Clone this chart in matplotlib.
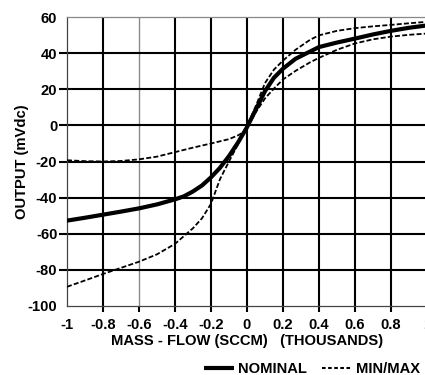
import matplotlib
matplotlib.use("Agg")
import matplotlib.pyplot as plt
from matplotlib.lines import Line2D

plt.rcParams['font.family'] = ['Liberation Sans', 'DejaVu Sans']
plt.rcParams['font.weight'] = 'bold'
plt.rcParams['lines.scale_dashes'] = False

# Nominal curve
x_nom = [-1, -0.9, -0.8, -0.7, -0.6, -0.5, -0.4, -0.35, -0.3, -0.25, -0.2, -0.15, -0.1, -0.05,
         0, 0.05, 0.1, 0.15, 0.2, 0.27, 0.35, 0.4, 0.5, 0.6, 0.7, 0.8, 0.9, 1.0]
y_nom = [-52.8, -51.2, -49.5, -47.8, -46, -43.8, -41, -39.3, -36.6, -33.3, -28.8, -23.5, -17, -9.5,
         -1, 9, 19, 26.5, 31.5, 37, 41, 43.5, 46, 48.2, 50.5, 52.5, 54.2, 55.5]

# Steep min/max curve
x_a = [-1, -0.9, -0.8, -0.7, -0.6, -0.5, -0.4, -0.3, -0.25, -0.2, -0.15, -0.1, -0.05,
       0, 0.05, 0.1, 0.15, 0.2, 0.27, 0.35, 0.4, 0.5, 0.6, 0.7, 0.8, 0.9, 1.0]
y_a = [-89.5, -86, -82.4, -79, -75.6, -71.5, -65.7, -57, -51.5, -43.5, -29.8, -20, -10.5,
       -0.5, 11, 23.5, 31, 36, 42, 47.5, 50, 52.5, 54, 55, 55.8, 56.7, 57.5]

# Flat min/max curve
x_b = [-1, -0.9, -0.8, -0.7, -0.6, -0.5, -0.4, -0.3, -0.2, -0.1, -0.05, -0.02,
       0, 0.05, 0.1, 0.15, 0.2, 0.27, 0.35, 0.4, 0.5, 0.6, 0.7, 0.8, 0.9, 1.0]
y_b = [-19.3, -19.8, -20, -19.7, -18.8, -17.3, -14.8, -12.3, -10, -7.6, -5.5, -3.8,
       -1.5, 7.5, 15, 20.5, 25.5, 30.3, 35, 37.5, 42, 45.5, 47.8, 49.3, 50.3, 51]

x_ticks = [-1, -0.8, -0.6, -0.4, -0.2, 0, 0.2, 0.4, 0.6, 0.8, 1]
x_tick_labels = ['-1', '-0.8', '-0.6', '-0.4', '-0.2', '0', '0.2', '0.4', '0.6', '0.8', '1']
y_ticks = [-100, -80, -60, -40, -20, 0, 20, 40, 60]
y_tick_labels = ['-100', '-80', '-60', '-40', '-20', '0', '20', '40', '60']

FS = 10.6

fig = plt.figure(figsize=(4.25, 3.75), dpi=100)
ax = fig.add_axes([0.1576, 0.1848, 0.847, 0.769])
ax.set_xlim(-1, 1)
ax.set_ylim(-100, 60)

dash = (0, (3.6, 1.6))
ax.plot(x_a, y_a, color='black', lw=1.3, linestyle=dash, zorder=3)
ax.plot(x_b, y_b, color='black', lw=1.3, linestyle=dash, zorder=3)
ax.plot(x_nom, y_nom, color='black', lw=3.0, solid_capstyle='butt', zorder=4)

ax.set_xticks(x_ticks)
ax.set_xticklabels(x_tick_labels)
ax.set_yticks(y_ticks)
ax.set_yticklabels(y_tick_labels)
ax.tick_params(axis='both', labelsize=FS, colors='black', width=1.5)
ax.tick_params(axis='y', length=6, pad=1)
ax.tick_params(axis='x', length=4.5, pad=4.5)
for lab in ax.get_xticklabels() + ax.get_yticklabels():
    lab.set_fontweight('bold')

ax.grid(True, color='black', lw=1.5)
for t, gl, tk in zip(ax.get_xticks(), ax.get_xgridlines(), ax.xaxis.get_major_ticks()):
    if t in (-1, 1):
        gl.set_visible(False)
        tk.tick1line.set_visible(False)
    if abs(t + 0.6) < 1e-9:
        gl.set_color('#8a8a8a')
        gl.set_linewidth(1.0)
for t, gl, tk in zip(ax.get_yticks(), ax.get_ygridlines(), ax.yaxis.get_major_ticks()):
    if t in (-100, 60):
        gl.set_visible(False)
        tk.tick1line.set_visible(False)

for side in ('left', 'bottom'):
    ax.spines[side].set_color('#444444')
    ax.spines[side].set_linewidth(0.9)
ax.spines['top'].set_color('#888888')
ax.spines['top'].set_linewidth(0.9)
ax.spines['right'].set_visible(False)

ax.set_xlabel('MASS - FLOW (SCCM)   (THOUSANDS)', fontsize=FS, fontweight='bold', labelpad=1.5)
ax.set_ylabel('OUTPUT (mVdc)', fontsize=FS, fontweight='bold', labelpad=-1.2)

h_nom = Line2D([], [], color='black', lw=3.0, solid_capstyle='butt')
h_mm = Line2D([], [], color='black', lw=1.5, linestyle=(0, (2.6, 1.8)))
fig.legend([h_nom, h_mm], ['NOMINAL', 'MIN/MAX'], loc='center left',
           bbox_to_anchor=(0.481, 0.015), ncol=2, frameon=False,
           prop={'size': FS, 'weight': 'bold'}, handlelength=2.0,
           handletextpad=0.28, columnspacing=1.05, borderpad=0, borderaxespad=0)

fig.savefig('out.png', dpi=100)
